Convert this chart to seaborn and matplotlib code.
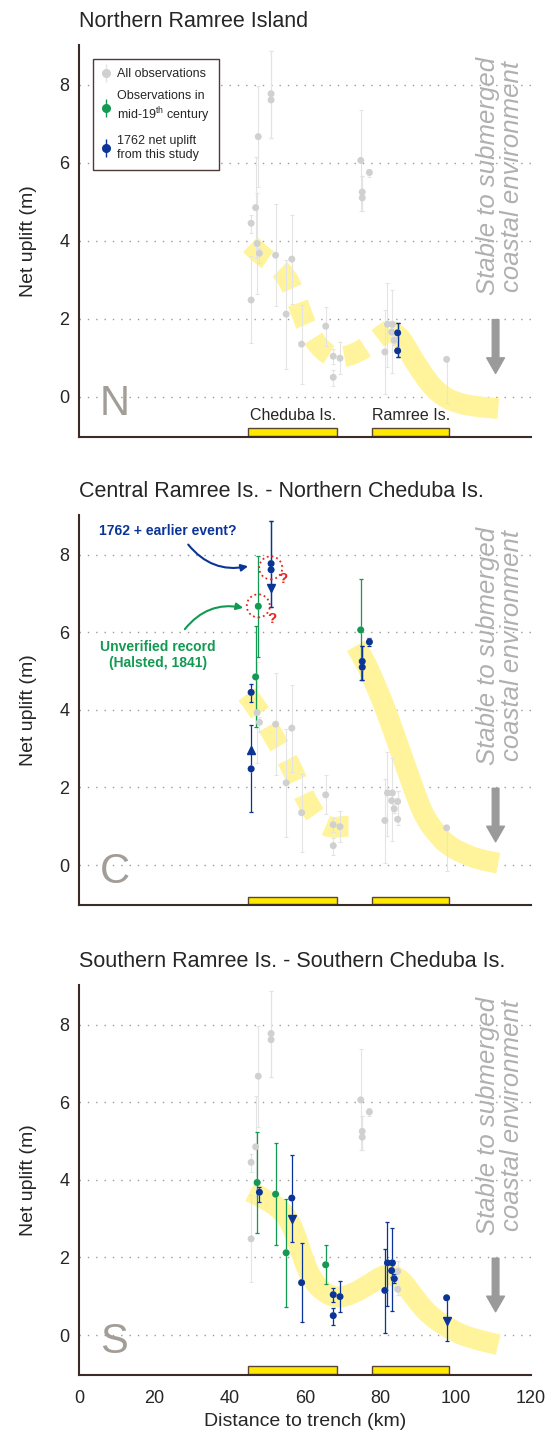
import numpy as np
import pandas as pd
import seaborn as sns
import matplotlib
matplotlib.use("Agg")
import matplotlib.pyplot as plt
from matplotlib.path import Path
from matplotlib.patches import PathPatch
from matplotlib.lines import Line2D

# all observations: distance to trench (km), net uplift (m), error range
obs_x = [45.7, 45.7, 46.9, 47.6, 47.3, 47.9, 51.0, 51.0, 52.2, 55.0, 56.5, 59.1, 65.5, 67.5,
         67.5, 69.3, 74.8, 75.2, 75.2, 77.1, 81.2, 81.9, 83.2, 83.0, 83.7, 84.6, 84.6, 97.6]
obs_y = [4.45, 2.48, 4.85, 6.67, 3.93, 3.68, 7.77, 7.61, 3.63, 2.12, 3.53, 1.35, 1.81, 1.04,
         0.50, 0.99, 6.06, 5.25, 5.10, 5.75, 1.15, 1.86, 1.86, 1.66, 1.45, 1.64, 1.18, 0.96]
obs_lo = [4.20, 1.37, 3.55, 5.37, 2.64, 3.44, 6.64, 6.64, 2.32, 0.72, 2.39, 0.34, 1.31, 0.85,
          0.27, 0.59, 4.76, 4.76, 4.76, 5.64, 0.06, 0.76, 0.62, 1.50, 1.33, 1.03, 1.03, -0.15]
obs_hi = [4.66, 3.60, 6.15, 7.97, 5.23, 3.82, 8.86, 8.86, 4.94, 3.51, 4.65, 2.36, 2.31, 1.22,
          0.70, 1.40, 7.36, 5.65, 5.65, 5.85, 2.22, 2.91, 2.75, 1.80, 1.58, 1.90, 1.90, 0.96]

# which observations are highlighted in each panel
north_blue = [25, 26]
central_green = [2, 3, 16]
central_blue = [0, 1, 6, 7, 17, 18, 19]
south_green = [4, 8, 9, 12]
south_blue = [5, 10, 11, 13, 14, 15, 20, 21, 22, 23, 24, 27]

# limit arrows on error bars
central_arrow_x = [45.7, 51.0]
central_arrow_y = [2.97, 7.15]
central_arrow_m = ["^", "v"]
south_arrow_x = [56.5, 97.6]
south_arrow_y = [3.0, 0.36]
south_arrow_m = ["v", "v"]

# islands along the profile
island_names = ["Cheduba Is.", "Ramree Is."]
island_start = [45.0, 77.9]
island_end = [68.5, 98.2]

# hand drawn uplift trend (yellow band)
north_dash_x = [45.5, 48.0, 52.0, 55.0, 57.0, 58.5, 60.0, 62.0, 65.0, 68.0, 72.0, 76.0, 80.0, 82.5]
north_dash_y = [3.9, 3.65, 3.4, 3.1, 2.7, 2.3, 1.9, 1.5, 1.15, 1.0, 1.05, 1.25, 1.55, 1.72]
north_band_x = [82.5, 84.5, 86.5, 88.5, 90.5, 93.0, 96.0, 100.0, 105.0, 111.3]
north_band_y = [1.72, 1.6, 1.35, 1.0, 0.7, 0.35, 0.05, -0.15, -0.25, -0.3]
central_dash_x = [44.5, 47.0, 50.0, 53.0, 56.0, 58.5, 61.0, 64.0, 67.0, 70.0, 72.5]
central_dash_y = [4.4, 4.1, 3.6, 3.1, 2.6, 2.05, 1.55, 1.1, 0.95, 1.0, 1.0]
central_band_x = [73.5, 76.0, 78.0, 80.0, 82.0, 84.0, 86.0, 88.0, 90.0, 92.0, 95.0, 98.0, 102.0, 106.0, 111.3]
central_band_y = [5.65, 5.25, 4.8, 4.35, 3.85, 3.3, 2.75, 2.2, 1.65, 1.2, 0.8, 0.5, 0.3, 0.15, 0.05]
south_band_x = [45.4, 50.7, 55.0, 57.5, 59.5, 62.0, 65.0, 68.5, 72.5, 77.0, 81.7, 85.5, 88.8, 93.0, 99.4, 104.0, 111.3]
south_band_y = [3.7, 3.45, 3.1, 2.6, 1.95, 1.4, 1.1, 0.95, 1.05, 1.3, 1.6, 1.45, 1.0, 0.5, 0.1, -0.08, -0.25]

titles = ["Northern Ramree Island",
          "Central Ramree Is. - Northern Cheduba Is.",
          "Southern Ramree Is. - Southern Cheduba Is."]
letters = ["N", "C", "S"]

GRAY_PT = "#d0d0d0"
GRAY_BAR = "#e4e4e4"
GREEN = "#139a52"
BLUE = "#0a3597"
RED = "#e8231f"
BAND = "#fff49c"
SPINE = "#3d2b26"

sns.set_theme(style="white")
plt.rcParams["font.family"] = ["Liberation Sans", "DejaVu Sans"]
plt.rcParams["mathtext.fontset"] = "custom"
plt.rcParams["mathtext.rm"] = "Liberation Sans"
plt.rcParams["mathtext.it"] = "Liberation Sans:italic"

df = pd.DataFrame({"x": obs_x, "y": obs_y, "lo": obs_lo, "hi": obs_hi})


def band(ax, xs, ys, dashed=False):
    pts = list(zip(xs, ys))
    verts = [pts[0]]
    codes = [Path.MOVETO]
    for i in range(1, len(pts) - 1):
        mid = ((pts[i][0] + pts[i + 1][0]) / 2, (pts[i][1] + pts[i + 1][1]) / 2)
        verts += [pts[i], mid]
        codes += [Path.CURVE3, Path.CURVE3]
    verts.append(pts[-1])
    codes.append(Path.LINETO)
    ls = (0, (1.1, 0.75)) if dashed else "-"
    patch = PathPatch(Path(verts, codes), fill=False, edgecolor=BAND, lw=15,
                      linestyle=ls, capstyle="butt", joinstyle="round", zorder=1.5)
    ax.add_patch(patch)


def points(ax, idx, color, pt_color=None, elw=0.9):
    d = df.iloc[idx]
    ax.errorbar(d["x"], d["y"], yerr=[d["y"] - d["lo"], d["hi"] - d["y"]], fmt="none",
                ecolor=color, elinewidth=elw, capsize=1.6, capthick=elw, zorder=2.6)
    sns.scatterplot(x=d["x"].values, y=d["y"].values, color=pt_color or color, s=25,
                    edgecolor="none", ax=ax, zorder=3, legend=False)


fig = plt.figure(figsize=(5.59, 14.46), dpi=100)
bottoms = [0.6978, 0.3741, 0.0491]
heights = [0.2711, 0.2697, 0.2697]
axes = [fig.add_axes([0.1413, b, 0.8086, h]) for b, h in zip(bottoms, heights)]

for k, ax in enumerate(axes):
    ax.set_xlim(0, 120)
    ax.set_ylim(-1.03, 9.02)
    for y in [0, 2, 4, 6, 8]:
        ax.axhline(y, color="#9a9a9a", lw=1, linestyle=(0, (1, 5)), zorder=0.5)
    for s in ["top", "right"]:
        ax.spines[s].set_visible(False)
    for s in ["left", "bottom"]:
        ax.spines[s].set_color(SPINE)
        ax.spines[s].set_linewidth(1.5)
    ax.set_xticks(range(0, 121, 20))
    ax.set_yticks([0, 2, 4, 6, 8])
    ax.tick_params(axis="x", direction="in", length=8, width=1.5, color=SPINE,
                   labelsize=13, pad=11, labelbottom=(k == 2))
    ax.tick_params(axis="y", direction="in", length=3, width=1.2, color=SPINE,
                   labelsize=13, pad=7)
    ax.set_title(titles[k], loc="left", fontsize=15.5, pad=13)
    ax.set_ylabel("Net uplift (m)", fontsize=14, labelpad=16)

    ax.barh([-0.905] * 2, np.subtract(island_end, island_start), left=island_start,
            height=0.19, color="#ffe900", edgecolor="#5a4530", lw=1, zorder=2)

    points(ax, list(range(len(obs_x))), GRAY_BAR, GRAY_PT, elw=0.8)

    ax.text(5.5, -0.47, letters[k], fontsize=30, color="#a39d98", va="baseline", ha="left")
    ax.text(111.7, 5.65, "Stable to submerged\ncoastal environment", rotation=90,
            ha="center", va="center", style="italic", color="#b0b0b0", fontsize=18.5,
            linespacing=1.0, multialignment="center")
    ax.annotate("", xy=(110.6, 0.6), xytext=(110.6, 1.98),
                arrowprops=dict(arrowstyle="simple,head_width=0.8,head_length=0.7,tail_width=0.3",
                                mutation_scale=16, color="#9a9a9a", shrinkA=0, shrinkB=0))

axN, axC, axS = axes

# north
band(axN, north_dash_x, north_dash_y, dashed=True)
band(axN, north_band_x, north_band_y)
points(axN, north_blue, BLUE)
for name, a, b in zip(island_names, island_start, island_end):
    axN.text((a + b) / 2, -0.49, name, ha="center", va="center", fontsize=11.5)
handles = [
    (Line2D([], [], marker="|", ms=13, mew=1, color=GRAY_BAR, ls="None"),
     Line2D([], [], marker="o", ms=5.5, color=GRAY_PT, ls="None")),
    (Line2D([], [], marker="|", ms=13, mew=1, color=GREEN, ls="None"),
     Line2D([], [], marker="o", ms=5.5, color=GREEN, ls="None")),
    (Line2D([], [], marker="|", ms=13, mew=1, color=BLUE, ls="None"),
     Line2D([], [], marker="o", ms=5.5, color=BLUE, ls="None")),
]
labels = ["All observations", "Observations in\nmid-19$^{\\mathrm{th}}$ century",
          "1762 net uplift\nfrom this study"]
leg = axN.legend(handles, labels, loc="upper left", bbox_to_anchor=(0.031, 0.964),
                 borderaxespad=0, fontsize=9, handlelength=0.6, handletextpad=0.6,
                 labelspacing=0.8, borderpad=0.75, fancybox=False, framealpha=1,
                 edgecolor="#4a3b33")
leg.get_frame().set_linewidth(1)

# central
band(axC, central_dash_x, central_dash_y, dashed=True)
band(axC, central_band_x, central_band_y)
points(axC, central_green, GREEN)
points(axC, central_blue, BLUE)
for x, y, m in zip(central_arrow_x, central_arrow_y, central_arrow_m):
    axC.plot(x, y, marker=m, ms=6, color=BLUE, zorder=3)
axC.scatter([47.6, 50.9], [6.68, 7.66], s=275, facecolors="none", edgecolors=RED,
            linestyles=":", linewidths=1.3, zorder=4)
axC.text(51.1, 6.34, "?", color=RED, fontsize=11, fontweight="bold", ha="center", va="center")
axC.text(54.2, 7.36, "?", color=RED, fontsize=11, fontweight="bold", ha="center", va="center")
axC.text(5.4, 8.6, "1762 + earlier event?", color=BLUE, fontweight="bold", fontsize=10,
         ha="left", va="center")
axC.annotate("", xy=(44.9, 7.70), xytext=(29.0, 8.26),
             arrowprops=dict(arrowstyle="-|>", color=BLUE, lw=1.5, mutation_scale=10,
                             connectionstyle="arc3,rad=0.3", shrinkA=0, shrinkB=0))
axC.text(21.0, 5.42, "Unverified record\n(Halsted, 1841)", color=GREEN, fontweight="bold",
         fontsize=10, ha="center", va="center", linespacing=1.2)
axC.annotate("", xy=(43.6, 6.63), xytext=(28.1, 6.08),
             arrowprops=dict(arrowstyle="-|>", color=GREEN, lw=1.5, mutation_scale=10,
                             connectionstyle="arc3,rad=-0.3", shrinkA=0, shrinkB=0))

# south
band(axS, south_band_x, south_band_y)
points(axS, south_green, GREEN)
points(axS, south_blue, BLUE)
for x, y, m in zip(south_arrow_x, south_arrow_y, south_arrow_m):
    axS.plot(x, y, marker=m, ms=6, color=BLUE, zorder=3)
axS.set_xlabel("Distance to trench (km)", fontsize=14, labelpad=4)

fig.savefig("out.png", dpi=100)
